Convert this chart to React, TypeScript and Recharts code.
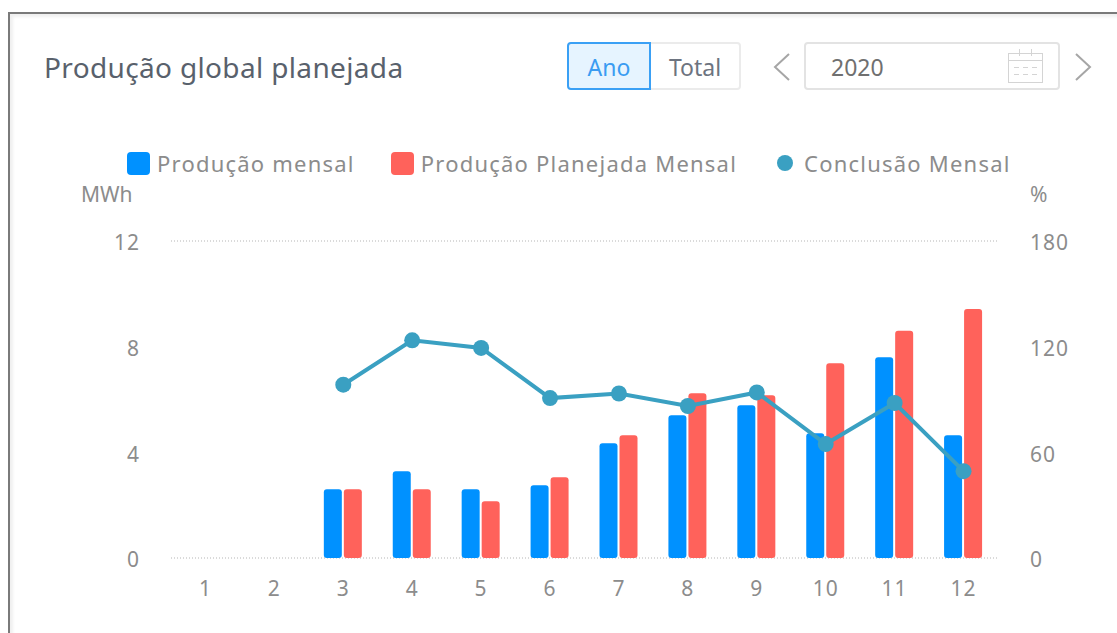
import React from 'react';
import { ComposedChart, Bar, Line, XAxis, YAxis, CartesianGrid, Legend } from 'recharts';

const months = ['1', '2', '3', '4', '5', '6', '7', '8', '9', '10', '11', '12'];
const production = [null, null, 2.6, 3.28, 2.6, 2.75, 4.34, 5.4, 5.78, 4.72, 7.6, 4.65];
const planned = [null, null, 2.6, 2.6, 2.15, 3.06, 4.65, 6.24, 6.16, 7.37, 8.6, 9.43];
const completion = [null, null, 98.4, 123.6, 119.3, 90.8, 93.4, 86.3, 94, 64.7, 88, 49.3];
const leftTicks = [0, 4, 8, 12];
const rightTicks = [0, 60, 120, 180];

const data = months.map((month, i) => ({
  month,
  production: production[i],
  planned: planned[i],
  completion: completion[i],
}));

const FONT = '"Noto Sans", sans-serif';
const TEXT = '#8c8c8c';
const tickStyle = { fill: TEXT, fontSize: 21, letterSpacing: 1 };
const sideTickStyle = { ...tickStyle, dy: 2 };

function ChartLegend({ payload }: any) {
  return (
    // height 0 so the legend takes no room from the plot area
    <div style={{ display: 'flex', alignItems: 'center', height: 0 }}>
      {(payload || []).map((item: any, i: number) => {
        const isLine = item.dataKey === 'completion';
        return (
          <div key={item.dataKey} style={{ display: 'flex', alignItems: 'center', marginRight: i === 0 ? 36 : 40 }}>
            <span
              style={{
                width: isLine ? 16 : 23,
                height: isLine ? 16 : 23,
                borderRadius: isLine ? 8 : 4,
                background: item.color,
                marginRight: isLine ? 11 : 7,
              }}
            />
            <span style={{ fontSize: 22, letterSpacing: 1.22, color: TEXT, whiteSpace: 'nowrap' }}>{item.value}</span>
          </div>
        );
      })}
    </div>
  );
}

function CalendarIcon() {
  return (
    <svg width={36} height={36} style={{ position: 'absolute', left: 1008, top: 48 }} fill="none" stroke="#d4d4d4">
      <rect x={0.5} y={5.5} width={34} height={29} />
      <path d="M0.5 12.5H34.5M11.5 1V8M23.5 1V8" />
      <path d="M6 19.5H11M15 19.5H20M24 19.5H29M6 26.5H11M15 26.5H20M24 26.5H29" />
    </svg>
  );
}

function Chevron({ x, flip }: { x: number; flip?: boolean }) {
  return (
    <svg width={18} height={28} style={{ position: 'absolute', left: x, top: 53 }} fill="none" stroke="#a6a6a6" strokeWidth={2}>
      <path d={flip ? 'M2 1L16 14L2 27' : 'M16 1L2 14L16 27'} />
    </svg>
  );
}

export default function App() {
  return (
    <div
      style={{
        position: 'absolute',
        left: 0,
        top: 0,
        width: 1117,
        height: 633,
        overflow: 'hidden',
        background: '#fff',
        fontFamily: FONT,
      }}
    >
      {/* card edge */}
      <div
        style={{
          position: 'absolute',
          left: 8,
          top: 12,
          width: 1200,
          height: 800,
          borderLeft: '2px solid #7a7a7a',
          borderTop: '2px solid #7a7a7a',
          boxShadow: 'inset 3px 3px 3px #f0f0f0',
        }}
      />
      <div style={{ position: 'absolute', left: 44, top: 48, fontSize: 28, letterSpacing: 0.35, lineHeight: '38px', color: '#59616c', whiteSpace: 'nowrap' }}>
        Produção global planejada
      </div>

      {/* toggle */}
      <div
        style={{
          position: 'absolute', left: 567, top: 42, width: 84, height: 48, boxSizing: 'border-box',
          border: '2px solid #3aa0f5', borderRadius: '4px 0 0 4px', background: '#e6f4ff', color: '#3a9cf2',
          fontSize: 23, lineHeight: '46px', textAlign: 'center',
        }}
      >
        Ano
      </div>
      <div
        style={{
          position: 'absolute', left: 651, top: 42, width: 90, height: 48, boxSizing: 'border-box',
          border: '2px solid #ebebeb', borderLeft: 'none', borderRadius: '0 4px 4px 0', color: '#6d7480',
          fontSize: 23, lineHeight: '46px', textAlign: 'center',
        }}
      >
        Total
      </div>

      {/* year picker */}
      <Chevron x={773} />
      <div
        style={{
          position: 'absolute', left: 804, top: 42, width: 256, height: 48, boxSizing: 'border-box',
          border: '2px solid #e3e3e3', borderRadius: 4, color: '#707070',
          fontSize: 23, lineHeight: '46px', paddingLeft: 25,
        }}
      >
        2020
      </div>
      <CalendarIcon />
      <Chevron x={1074} flip />

      <div style={{ position: 'absolute', left: 81, top: 180, fontSize: 21, lineHeight: '28px', color: TEXT }}>MWh</div>
      <div style={{ position: 'absolute', left: 1030, top: 180, fontSize: 21, lineHeight: '28px', color: TEXT }}>%</div>

      <ComposedChart
        width={1117}
        height={633}
        data={data}
        barSize={18}
        barGap={2}
        margin={{ top: 241, right: 59, bottom: 35, left: 111 }}
        style={{ position: 'absolute', left: 0, top: 0 }}
      >
        <CartesianGrid vertical={false} stroke="#b5b5b5" strokeDasharray="1 2" />
        <Legend
          verticalAlign="top"
          align="left"
          itemSorter={null}
          content={<ChartLegend />}
          wrapperStyle={{ position: 'absolute', left: 127, top: 163, width: 950, fontFamily: FONT }}
        />
        <XAxis
          dataKey="month"
          axisLine={false}
          tickLine={false}
          height={40}
          tickMargin={17}
          tick={tickStyle}
        />
        <YAxis
          yAxisId="left"
          domain={[0, 12]}
          ticks={leftTicks}
          width={60}
          axisLine={false}
          tickLine={false}
          tickSize={0}
          tickMargin={31}
          tick={sideTickStyle}
        />
        <YAxis
          yAxisId="right"
          orientation="right"
          domain={[0, 180]}
          ticks={rightTicks}
          width={60}
          axisLine={false}
          tickLine={false}
          tickSize={0}
          tickMargin={32}
          tick={sideTickStyle}
        />
        <Bar yAxisId="left" dataKey="production" name="Produção mensal" fill="#0091ff" radius={3} isAnimationActive={false} />
        <Bar yAxisId="left" dataKey="planned" name="Produção Planejada Mensal" fill="#ff625b" radius={3} isAnimationActive={false} />
        <Line
          yAxisId="right"
          dataKey="completion"
          name="Conclusão Mensal"
          stroke="#3aa0c2"
          strokeWidth={4}
          dot={{ r: 8, fill: '#3aa0c2', stroke: '#3aa0c2', strokeWidth: 0, fillOpacity: 1 }}
          isAnimationActive={false}
        />
      </ComposedChart>
    </div>
  );
}
